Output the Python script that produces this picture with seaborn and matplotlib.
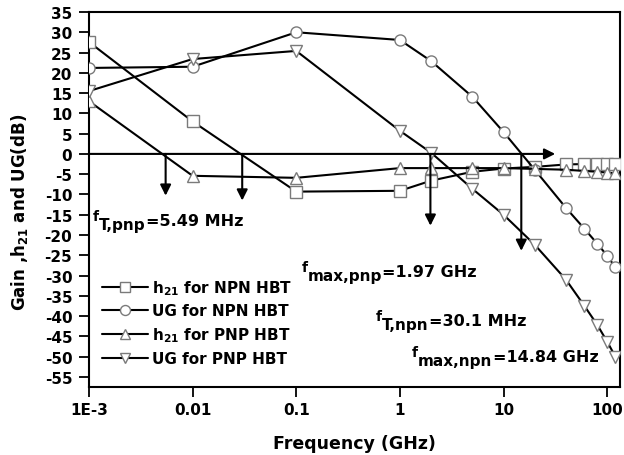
import matplotlib
matplotlib.use("Agg")
import matplotlib.pyplot as plt
import seaborn as sns
import pandas as pd

# ---------------- data ----------------
freq = [0.001, 0.01, 0.1, 1, 2, 5, 10, 20, 40, 60, 80, 100, 120]
h21_npn = [27.6, 8.0, -9.3, -9.1, -6.6, -4.4, -3.6, -3.2, -2.6, -2.5, -2.4, -2.4, -2.4]
ug_npn = [21.2, 21.5, 30.0, 28.1, 22.9, 14.1, 5.4, -3.9, -13.3, -18.4, -22.1, -25.1, -28.0]
h21_pnp = [13.0, -5.4, -5.9, -3.5, -3.5, -3.5, -3.5, -3.7, -3.9, -4.2, -4.4, -4.6, -4.8]
ug_pnp = [15.5, 23.4, 25.4, 5.7, 0.3, -8.6, -15.0, -22.4, -31.0, -37.4, -42.1, -46.3, -50.0]

series_labels = [r"h$_{21}$ for NPN HBT", "UG for NPN HBT",
                 r"h$_{21}$ for PNP HBT", "UG for PNP HBT"]
series_markers = ["s", "o", "^", "v"]

xtick_vals = [0.001, 0.01, 0.1, 1, 10, 100]
xtick_labels = ["1E-3", "0.01", "0.1", "1", "10", "100"]
ytick_vals = list(range(-55, 40, 5))

# characteristic frequencies (GHz) and arrow tips (dB)
char_freqs = [0.00549, 0.0301, 1.97, 14.84]
arrow_tips = [-10.3, -11.5, -17.7, -23.9]
zero_arrow_end = 31.5

# annotation texts: (subscript, value text)
ann_subs = ["T,pnp", "max,pnp", "T,npn", "max,npn"]
ann_vals = ["=5.49 MHz", "=1.97 GHz", "=30.1 MHz", "=14.84 GHz"]
ann_x = [0.001093, 0.1137, 0.589, 1.313]
ann_y = [-17.5, -30.0, -42.3, -51.0]

# ---------------- style ----------------
sns.set_style("ticks")
plt.rcParams["font.family"] = ["DejaVu Sans"]
plt.rcParams["font.weight"] = "bold"
plt.rcParams["text.color"] = "black"
plt.rcParams["axes.labelcolor"] = "black"
plt.rcParams["xtick.color"] = "black"
plt.rcParams["ytick.color"] = "black"
plt.rcParams["mathtext.fontset"] = "custom"
plt.rcParams["mathtext.rm"] = "DejaVu Sans:bold"
plt.rcParams["mathtext.bf"] = "DejaVu Sans:bold"
plt.rcParams["mathtext.it"] = "DejaVu Sans:bold"
plt.rcParams["mathtext.default"] = "bf"

fig = plt.figure(figsize=(6.24, 4.56), dpi=100)
ax = fig.add_axes([0.1426, 0.149, 0.851, 0.8225])
ax.set_xscale("log")

all_series = [h21_npn, ug_npn, h21_pnp, ug_pnp]
for vals, lab, mk in zip(all_series, series_labels, series_markers):
    df = pd.DataFrame({"f": freq, "v": vals})
    sns.lineplot(data=df, x="f", y="v", ax=ax, color="black", lw=1.5,
                 marker=mk, markersize=8, markerfacecolor="white",
                 markeredgecolor="#7a7a7a", markeredgewidth=1.0,
                 label=lab, zorder=3)

arrow_kw = dict(arrowstyle="-|>", color="black", lw=1.5,
                mutation_scale=16, shrinkA=0, shrinkB=0)
ax.annotate("", xy=(zero_arrow_end, 0), xytext=(0.001, 0),
            arrowprops=arrow_kw, zorder=4)
for fx, tip in zip(char_freqs, arrow_tips):
    ax.annotate("", xy=(fx, tip), xytext=(fx, 0), arrowprops=arrow_kw, zorder=4)

# annotation texts built as f + subscript + value
for sub, val, xa, ya in zip(ann_subs, ann_vals, ann_x, ann_y):
    t_f = ax.annotate("f", xy=(xa, ya), xytext=(0, 3.6), textcoords="offset points",
                      fontsize=10, fontweight="bold", va="baseline", ha="left")
    t_s = ax.annotate(sub, xy=(1.0, ya), xycoords=(t_f, "data"),
                      xytext=(0, -2.9), textcoords="offset points",
                      fontsize=11, fontweight="bold", va="baseline", ha="left")
    ax.annotate(val, xy=(1.0, ya), xycoords=(t_s, "data"),
                fontsize=11.5, fontweight="bold", va="baseline", ha="left")

ax.set_xlim(0.001, 133)
ax.set_ylim(-57.5, 35)
ax.set_xticks(xtick_vals)
ax.set_xticklabels(xtick_labels)
ax.xaxis.set_minor_locator(matplotlib.ticker.NullLocator())
ax.set_yticks(ytick_vals)
ax.set_yticklabels([str(v) for v in ytick_vals])
ax.tick_params(axis="both", direction="out", length=7, width=1.3,
               labelsize=11, color="black", labelcolor="black")
ax.tick_params(axis="y", pad=5)
ax.tick_params(axis="x", pad=4)
for lab in ax.get_xticklabels() + ax.get_yticklabels():
    lab.set_fontweight("bold")
for sp in ax.spines.values():
    sp.set_linewidth(1.5)
    sp.set_color("black")

ax.set_xlabel("Frequency (GHz)", fontsize=12.5, fontweight="bold", color="black")
ax.set_ylabel(r"Gain ,h$_{21}$ and UG(dB)", fontsize=12, fontweight="bold", color="black")
ax.xaxis.set_label_coords(0.5, -0.125)
ax.yaxis.set_label_coords(-0.111, 0.469)

leg = ax.legend(loc="upper left", bbox_to_anchor=(0.0245, 0.291), frameon=False,
                borderpad=0, borderaxespad=0, handlelength=3.0, handletextpad=0.3,
                labelspacing=0.45, markerscale=0.9,
                prop={"weight": "bold", "size": 11})
for t in leg.get_texts():
    t.set_color("black")

fig.savefig("out.png", dpi=100)
